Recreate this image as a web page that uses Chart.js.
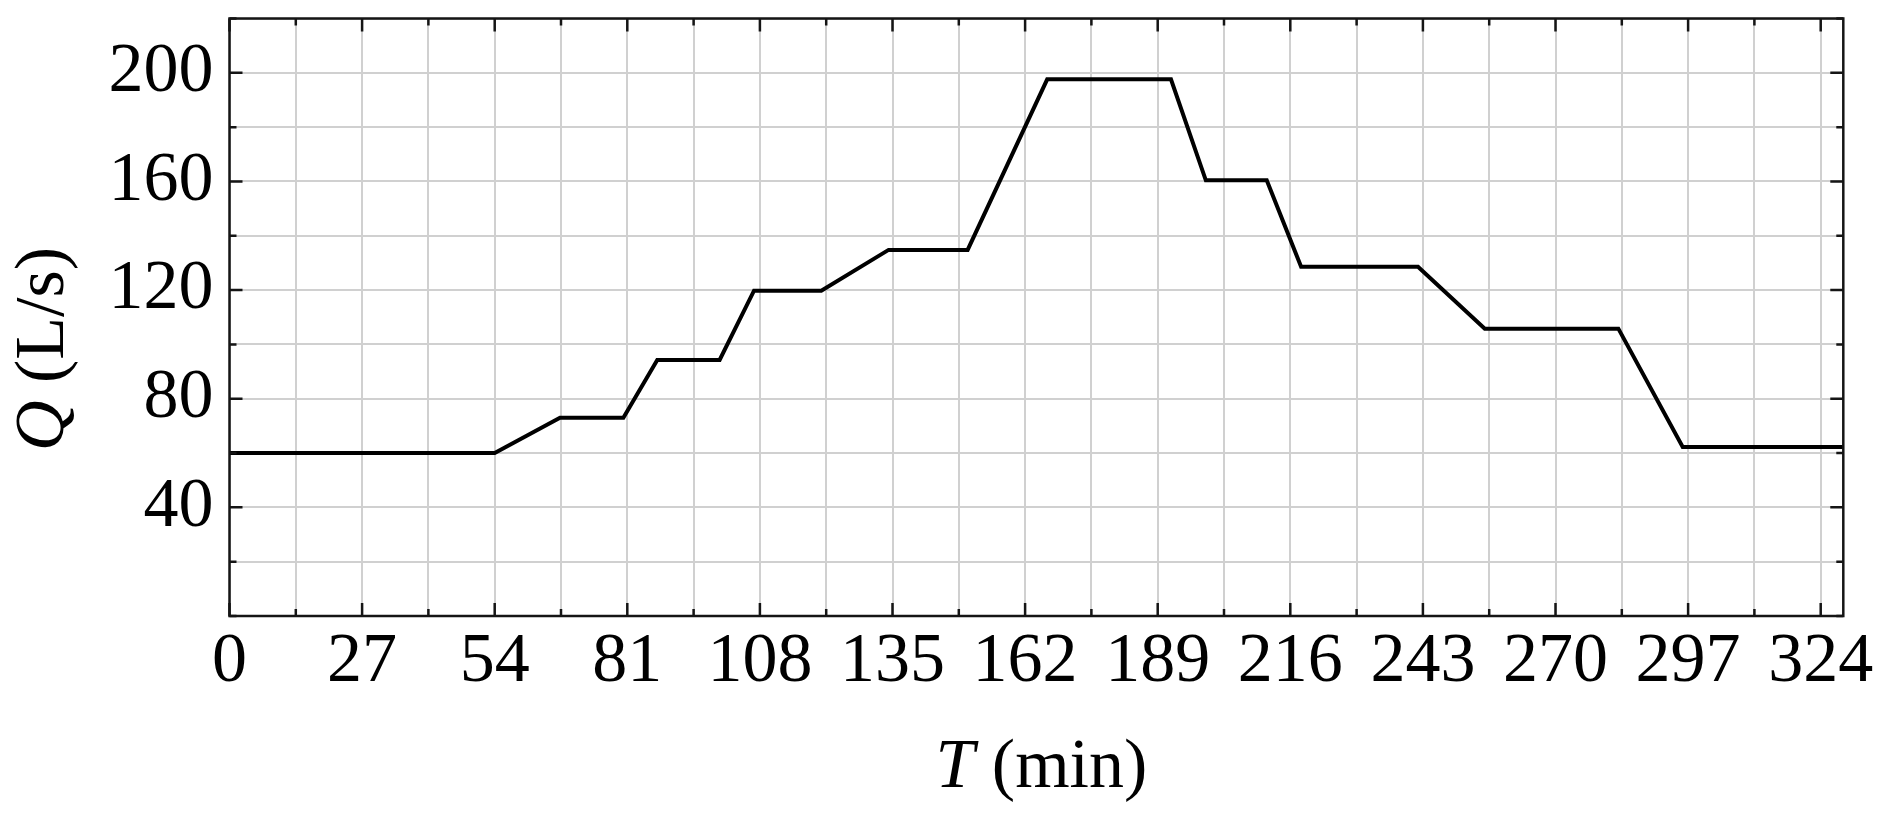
<!DOCTYPE html>
<html>
<head>
<meta charset="utf-8">
<script src="https://cdn.jsdelivr.net/npm/chart.js@4.4.1/dist/chart.umd.min.js"></script>
<style>
  html, body { margin: 0; padding: 0; background: #ffffff; }
  #wrap { width: 1883px; height: 828px; position: relative; }
</style>
</head>
<body>
<div id="wrap"><canvas id="c"></canvas></div>
<script>
// ---- data ----
const timeMin = [0, 54, 67.3, 80.2, 87.1, 99.8, 106.8, 120.5, 134.2, 150.3, 166.5, 191.7, 198.8, 211.2, 218.2, 242.0, 255.6, 282.8, 295.9, 328.6];
const flowLps = [60, 60, 73, 73, 94.3, 94.3, 119.8, 119.8, 134.8, 134.8, 197.6, 197.6, 160.4, 160.4, 128.6, 128.6, 105.8, 105.8, 62.2, 62.2];

// ---- axes ----
const xTickValues = [0, 13.5, 27, 40.5, 54, 67.5, 81, 94.5, 108, 121.5, 135, 148.5, 162, 175.5, 189, 202.5, 216, 229.5, 243, 256.5, 270, 283.5, 297, 310.5, 324];
const xLabelValues = [0, 27, 54, 81, 108, 135, 162, 189, 216, 243, 270, 297, 324];
const yTickValues = [0, 20, 40, 60, 80, 100, 120, 140, 160, 180, 200, 220];
const yLabelValues = [40, 80, 120, 160, 200];
const xRange = [0, 328.6];
const yRange = [0, 220];
const xTitleParts = [['T', true], [' (min)', false]];
const yTitleParts = [['Q', true], [' (L/s)', false]];

const FONT = '"Liberation Serif", "Times New Roman", serif';
const FSIZE = 70;

function drawParts(ctx, parts, cx, baseY) {
  let total = 0;
  const widths = parts.map(([t, it]) => {
    ctx.font = (it ? 'italic ' : '') + FSIZE + 'px ' + FONT;
    const w = ctx.measureText(t).width;
    total += w;
    return w;
  });
  let x = cx - total / 2;
  ctx.textAlign = 'left';
  ctx.textBaseline = 'alphabetic';
  ctx.fillStyle = '#000';
  parts.forEach(([t, it], i) => {
    ctx.font = (it ? 'italic ' : '') + FSIZE + 'px ' + FONT;
    ctx.fillText(t, x, baseY);
    x += widths[i];
  });
}

const framePlugin = {
  id: 'frame',
  afterDraw(chart) {
    const ctx = chart.ctx;
    const a = chart.chartArea;
    const xs = chart.scales.x, ys = chart.scales.y;
    ctx.save();
    ctx.strokeStyle = '#151515';
    ctx.lineWidth = 2.5;
    ctx.lineCap = 'butt';
    // inward ticks on all four sides
    ctx.beginPath();
    xTickValues.forEach(v => {
      const px = xs.getPixelForValue(v);
      const len = xLabelValues.includes(v) ? 13 : 7;
      ctx.moveTo(px, a.bottom); ctx.lineTo(px, a.bottom - len);
      ctx.moveTo(px, a.top); ctx.lineTo(px, a.top + len);
    });
    yTickValues.forEach(v => {
      const py = ys.getPixelForValue(v);
      const len = yLabelValues.includes(v) ? 13 : 7;
      ctx.moveTo(a.left, py); ctx.lineTo(a.left + len, py);
      ctx.moveTo(a.right, py); ctx.lineTo(a.right - len, py);
    });
    ctx.stroke();
    // frame
    ctx.strokeRect(a.left, a.top, a.right - a.left, a.bottom - a.top);
    // axis titles
    drawParts(ctx, xTitleParts, (a.left + a.right) / 2 + 5, 787);
    ctx.translate(63, 349);
    ctx.rotate(-Math.PI / 2);
    drawParts(ctx, yTitleParts, 0, 0);
    ctx.restore();
  }
};

new Chart(document.getElementById('c'), {
  type: 'line',
  data: {
    datasets: [{
      data: timeMin.map((t, i) => ({ x: t, y: flowLps[i] })),
      borderColor: '#000',
      borderWidth: 4,
      pointRadius: 0,
      tension: 0,
      fill: false,
      borderJoinStyle: 'miter'
    }]
  },
  options: {
    responsive: true,
    maintainAspectRatio: false,
    animation: false,
    layout: { padding: { left: 0, top: 18.5, right: 39.7, bottom: 0 } },
    plugins: { legend: { display: false }, tooltip: { enabled: false } },
    scales: {
      x: {
        type: 'linear',
        min: xRange[0], max: xRange[1],
        afterBuildTicks: s => { s.ticks = xTickValues.map(v => ({ value: v })); },
        afterFit: s => { s.height = 212; s.paddingLeft = 0; s.paddingRight = 0; },
        ticks: {
          autoSkip: false, maxRotation: 0, minRotation: 0, padding: 5,
          color: '#000', font: { family: FONT, size: FSIZE },
          callback: v => xLabelValues.includes(v) ? String(v) : ''
        },
        grid: { color: '#d0d0d0', lineWidth: 2, drawTicks: false },
        border: { display: false }
      },
      y: {
        type: 'linear',
        min: yRange[0], max: yRange[1],
        afterBuildTicks: s => { s.ticks = yTickValues.map(v => ({ value: v })); },
        afterFit: s => { s.width = 229.5; s.paddingTop = 0; s.paddingBottom = 0; },
        ticks: {
          autoSkip: false, padding: 16,
          color: '#000', font: { family: FONT, size: FSIZE },
          callback: v => yLabelValues.includes(v) ? String(v) : ''
        },
        grid: { color: '#d0d0d0', lineWidth: 2, drawTicks: false },
        border: { display: false }
      }
    }
  },
  plugins: [framePlugin]
});
</script>
</body>
</html>
